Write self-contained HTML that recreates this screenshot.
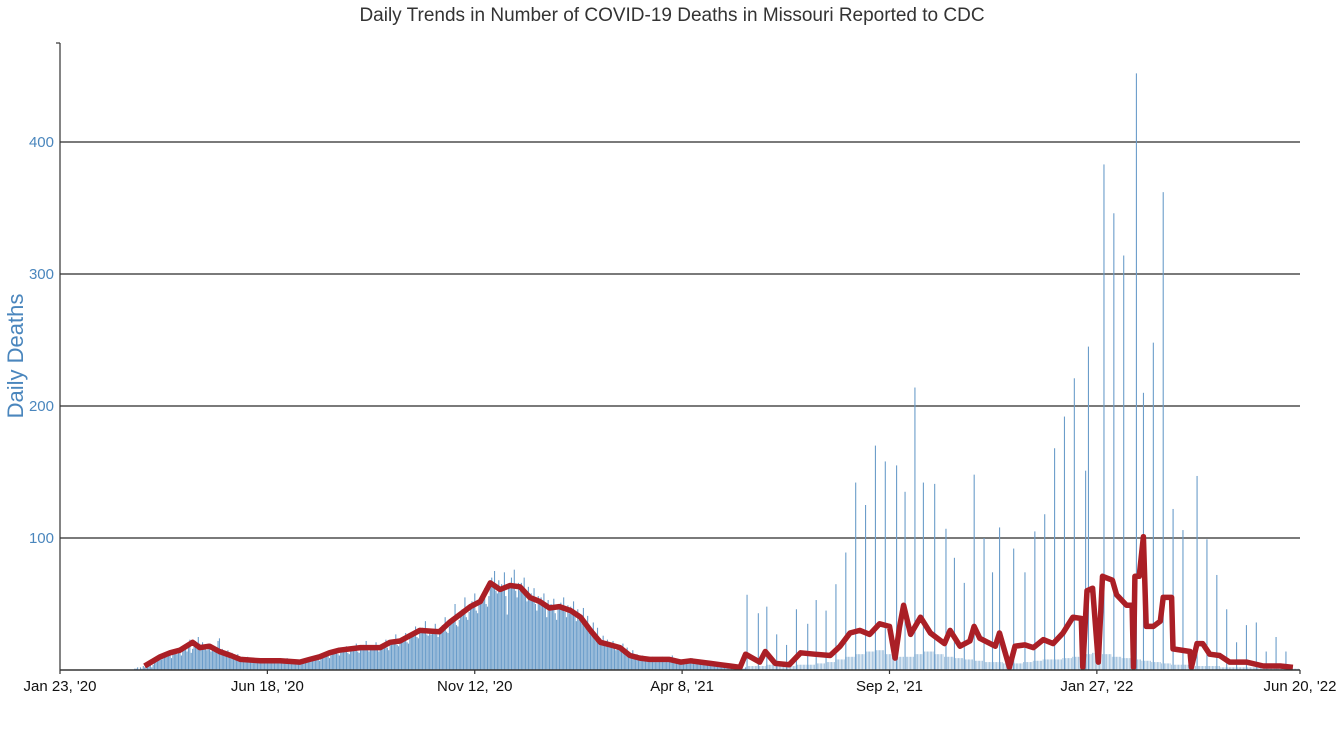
<!DOCTYPE html>
<html><head><meta charset="utf-8"><style>
body{margin:0;background:#fff;}
svg{display:block;font-family:"Liberation Sans",sans-serif;}
</style></head><body>
<svg id="chart" width="1342" height="732" viewBox="0 0 1342 732">
<text x="672" y="21" text-anchor="middle" font-size="19" fill="#333">Daily Trends in Number of COVID-19 Deaths in Missouri Reported to CDC</text>
<text transform="translate(23,356) rotate(-90)" text-anchor="middle" font-size="22" fill="#4a86bd">Daily Deaths</text>
<g id="grid"></g>
<g id="bars"></g>
<g id="line"></g>
<g id="axes"></g>
</svg>
<script>
const yTicks=[100,200,300,400];
const xTickDays=[0,147,294,441,588,735,879];
const xTickLabels=["Jan 23, '20","Jun 18, '20","Nov 12, '20","Apr 8, '21","Sep 2, '21","Jan 27, '22","Jun 20, '22"];
const phase1Start=53;
const phase1Daily=[
1,1,2,0,2,1,3, 2,3,4,3,5,2,4, 6,8,7,9,10,8,11, 11,13,10,14,12,9,13, 13,15,12,16,14,11,17,
15,18,14,17,23,13,16, 18,22,19,25,20,17,21, 16,18,15,20,17,14,18, 15,17,14,22,24,15,16, 13,14,12,15,11,10,13,
10,11,9,12,9,8,10, 8,9,7,10,8,6,8, 7,8,6,8,7,6,7, 6,8,7,7,6,5,8, 7,6,8,7,6,6,7,
6,7,6,9,7,5,7, 6,7,5,6,5,6,7, 7,8,6,8,7,6,8, 8,10,9,11,8,7,10, 10,12,11,14,12,9,11,
12,14,13,16,12,11,14, 14,17,15,18,13,12,16, 15,18,16,20,14,13,17, 16,19,17,22,15,14,18, 16,18,17,21,16,14,18,
17,20,18,23,17,15,19, 20,23,21,27,19,18,22, 22,25,23,28,21,20,24, 26,29,27,33,25,24,28, 28,32,30,37,27,26,31,
27,31,29,35,27,25,30, 30,34,31,40,29,28,33, 36,40,37,50,34,33,38, 42,46,43,55,40,38,44, 46,52,48,58,45,43,50,
52,57,54,62,50,48,56, 63,70,66,75,60,58,68, 59,65,60,74,56,42,63, 62,70,64,76,60,55,66, 60,66,62,70,58,52,63,
53,58,55,62,50,45,56, 50,55,52,58,48,40,53, 45,50,47,54,43,38,48, 46,51,48,55,44,40,49, 43,48,45,52,41,37,46,
38,42,40,47,36,32,41, 30,33,31,36,28,25,32, 21,24,22,26,20,18,23, 18,20,19,22,17,15,19, 16,18,17,20,15,13,17,
11,13,12,15,10,9,12, 9,10,9,11,8,7,9, 8,9,8,10,7,6,8, 7,9,8,10,7,6,8, 8,9,8,11,7,6,8,
6,7,6,8,5,5,6, 6,8,7,9,6,5,7, 6,7,6,7,5,4,6, 5,6,5,6,4,4,5, 4,5,4,5,3,3,4, 3,4,3,4,2,2,3, 2,3,2,3,1,1,2];
const phase2Start=487;
const phase2Weekly=[3,3,4,3,3,4,4,5,6,8,10,12,14,15,12,10,10,12,14,12,10,9,8,7,6,6,5,5,6,7,8,8,9,10,12,13,12,10,9,8,7,6,5,4,4,3,3,3,2,2,2,2,2,2,1,1,1];
const spikeDays=[487,495,501,508,515,522,530,536,543,550,557,564,571,578,585,593,599,606,612,620,628,634,641,648,655,661,666,676,684,691,698,705,712,719,727,729,740,747,754,763,768,775,782,789,796,806,813,820,827,834,841,848,855,862,869];
const spikeVals=[57,43,48,27,19,46,35,53,45,65,89,142,125,170,158,155,135,214,142,141,107,85,66,148,100,74,108,92,74,105,118,168,192,221,151,245,383,346,314,452,210,248,362,122,106,147,99,72,46,21,34,36,14,25,14];
const avgDays=[60,71,78,85,94,99,106,113,121,128,142,156,170,177,184,191,198,213,227,234,241,255,269,276,291,298,305,312,319,326,333,340,347,354,362,369,376,383,390,397,404,411,418,425,432,440,447,454,461,468,475,482,
486,496,500,507,517,525,535,546,553,560,567,574,581,588,592,595,598,603,610,617,627,631,638,645,648,652,663,666,673,677,684,690,697,704,711,718,724,725,728,732,736,739,746,749,756,760,761,762,765,768,770,775,780,782,788,789,801,802,806,810,815,822,829,841,853,865,874];
const avgVals=[3,10,13,15,21,17,18,14,11,8,7,7,6,8,10,13,15,17,17,21,22,30,29,36,48,52,66,61,64,63,55,52,47,48,45,40,30,21,19,17,11,9,8,8,8,6,7,6,5,4,3,2,
12,6,14,5,4,13,12,11,18,28,30,27,35,33,9,32,49,27,40,28,20,30,18,22,33,24,18,28,2,18,19,17,23,20,28,40,39,2,60,62,6,71,68,57,49,49,2,71,71,101,33,33,37,55,55,16,14,2,20,20,12,11,6,6,3,3,2];

const NS="http://www.w3.org/2000/svg";
const X0=60,X1=1300,Y0=670,pxDay=(X1-X0)/879,pxUnit=132/100;
const xs=d=>X0+d*pxDay, ys=v=>Y0-v*pxUnit;
function mk(tag,attrs,parent){const e=document.createElementNS(NS,tag);for(const k in attrs)e.setAttribute(k,attrs[k]);parent.appendChild(e);return e;}
const grid=document.getElementById('grid'),barsG=document.getElementById('bars'),lineG=document.getElementById('line'),axes=document.getElementById('axes');
yTicks.forEach(t=>{
  const l=mk('line',{x1:X0,x2:X1,y1:ys(t),y2:ys(t),stroke:'#2a2a2a','stroke-width':1.2},grid);
  
  
  const tx=mk('text',{x:54,y:ys(t)+5,'text-anchor':'end','font-size':15,fill:'#4a86bd'},axes);
  tx.textContent=t;
  
  
});
function bar(day,v,name,w,op){
  const r=mk('rect',{x:xs(day)-0.5,y:ys(v),width:w,height:v*pxUnit,fill:'#6b9dca','fill-opacity':op},barsG);
  
  
}
phase1Daily.forEach((v,i)=>bar(phase1Start+i,v,'bar-day-'+(phase1Start+i),1.1,1));
phase2Weekly.forEach((v,w)=>{for(let k=0;k<7;k++){const d=phase2Start+w*7+k;if(d<=878)bar(d,v,'bar-day-'+d,0.75,0.75);}});
spikeDays.forEach((d,i)=>bar(d,spikeVals[i],'bar-spike-'+d,1.1,1));
const pts=avgDays.map((d,i)=>xs(d).toFixed(1)+','+ys(avgVals[i]).toFixed(1)).join(' ');
const pl=mk('polyline',{points:pts,fill:'none',stroke:'#aa1f26','stroke-width':5.5,'stroke-linejoin':'round'},lineG);


const ya=mk('line',{x1:X0,x2:X0,y1:43,y2:Y0,stroke:'#333','stroke-width':1.2},axes);


const yt=mk('line',{x1:X0-4,x2:X0,y1:43,y2:43,stroke:'#333','stroke-width':1.2},axes);


const xa=mk('line',{x1:X0,x2:X1,y1:Y0,y2:Y0,stroke:'#333','stroke-width':1.5},axes);


xTickDays.forEach((d,i)=>{
  const t=mk('line',{x1:xs(d),x2:xs(d),y1:Y0,y2:Y0+4,stroke:'#333','stroke-width':1.2},axes);
  
  
  const tx=mk('text',{x:xs(d),y:691,'text-anchor':'middle','font-size':15,fill:'#111'},axes);
  tx.textContent=xTickLabels[i];
  
  
});
</script>
</body></html>
